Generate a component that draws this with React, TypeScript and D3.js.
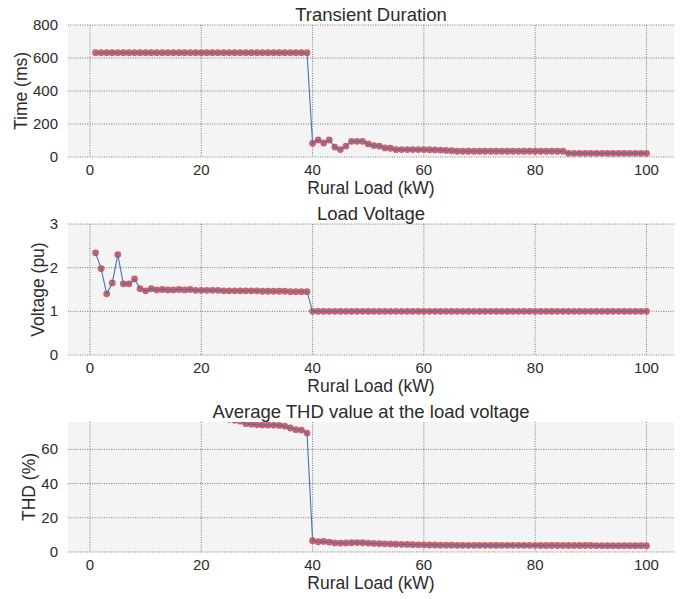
import * as d3 from 'd3';

const loads = d3.range(1, 101);

const transientMs = [
  632, 632, 632, 632, 632, 632, 632, 632, 632, 632,
  632, 632, 632, 632, 632, 632, 632, 632, 632, 632,
  632, 632, 632, 632, 632, 632, 632, 632, 632, 632,
  632, 632, 632, 632, 632, 632, 632, 632, 632,
  83, 103, 85, 103, 60, 45, 66, 95, 95, 95,
  79, 69, 66, 55, 53, 45, 45, 45, 45, 45, 45,
  44, 43, 42, 40, 38,
  35, 35, 35, 35, 35, 35, 35, 35, 35, 35,
  35, 35, 35, 35, 35, 35, 35, 35, 35, 35,
  22, 22, 22, 22, 22, 22, 22, 22, 22, 22, 22, 22, 22, 22, 22,
];

const voltagePu = [
  2.34, 1.98, 1.40, 1.65, 2.30, 1.63, 1.63, 1.74, 1.52, 1.47,
  1.52, 1.49, 1.50, 1.49, 1.49, 1.50, 1.49, 1.50, 1.48, 1.48,
  1.48, 1.48, 1.48, 1.47, 1.47, 1.47, 1.47, 1.47, 1.47, 1.47,
  1.46, 1.46, 1.46, 1.46, 1.46, 1.45, 1.45, 1.45, 1.45,
  1, 1, 1, 1, 1, 1, 1, 1, 1, 1, 1, 1, 1, 1, 1, 1, 1, 1, 1, 1, 1,
  1, 1, 1, 1, 1, 1, 1, 1, 1, 1, 1, 1, 1, 1, 1, 1, 1, 1, 1, 1,
  1, 1, 1, 1, 1, 1, 1, 1, 1, 1, 1, 1, 1, 1, 1, 1, 1, 1, 1, 1,
];

const thdPct = [
  96, 95, 94, 93, 92, 91, 90, 89, 88, 87,
  86, 85, 84.5, 84, 83, 82.5, 82, 81, 80.5, 80,
  79.5, 79, 78.5, 78, 77.5, 77, 76.5,
  75, 74.7, 74.4, 74.3, 74.2, 74.2, 74.0, 73.6, 72.5, 71.5, 71.3, 69.5,
  6.6, 6.0, 6.2, 5.8, 5.3, 5.2, 5.3, 5.4, 5.5, 5.4,
  5.2, 5.0, 4.9, 4.8, 4.7, 4.6, 4.5, 4.4, 4.3, 4.2, 4.2,
  4.1, 4.1, 4.0, 4.0, 4.0, 3.9, 3.9, 3.9, 3.9, 3.9,
  3.9, 3.9, 3.9, 3.9, 3.9, 3.9, 3.9, 3.9, 3.9, 3.9,
  3.8, 3.8, 3.8, 3.8, 3.8, 3.8, 3.8, 3.8, 3.8, 3.8,
  3.7, 3.7, 3.7, 3.7, 3.7, 3.7, 3.7, 3.7, 3.7, 3.7,
];

const xTicks = [0, 20, 40, 60, 80, 100];

const panels = [
  { id: 'p1', title: 'Transient Duration', ylabel: 'Time (ms)', values: transientMs, yDomain: [0, 800], yTicks: [0, 200, 400, 600, 800], top: 25, bottom: 157 },
  { id: 'p2', title: 'Load Voltage', ylabel: 'Voltage (pu)', values: voltagePu, yDomain: [0, 3], yTicks: [0, 1, 2, 3], top: 224, bottom: 355 },
  { id: 'p3', title: 'Average THD value at the load voltage', ylabel: 'THD (%)', values: thdPct, yDomain: [0, 76], yTicks: [0, 20, 40, 60], top: 422, bottom: 552 },
];

const W = 680;
const H = 599;
const left = 68;
const right = 674;
const font = '"Liberation Sans", Arial, sans-serif';
const textColor = '#2b2b2b';
const gridColor = '#5a5a5a';

function Panel({ p }) {
  const x = d3.scaleLinear().domain([-3.95, 104.95]).range([left, right]);
  const y = d3.scaleLinear().domain(p.yDomain).range([p.bottom, p.top]);
  const line = d3.line<number>().x((_, i) => x(loads[i])).y(d => y(d));
  const tickW = d3.max(p.yTicks, t => String(t).length * 8.3) ?? 0;
  const labelX = left - 10 - tickW - 6;

  return (
    <g>
      <defs>
        <clipPath id={`clip-${p.id}`}>
          <rect x={left} y={p.top} width={right - left} height={p.bottom - p.top} />
        </clipPath>
      </defs>
      <rect x={left} y={p.top} width={right - left} height={p.bottom - p.top} fill="#f4f4f4" />
      {xTicks.map(t => (
        <line key={`gx${t}`} x1={x(t)} x2={x(t)} y1={p.top} y2={p.bottom}
          stroke={gridColor} strokeWidth={0.8} strokeDasharray="1,1.4" />
      ))}
      {p.yTicks.map(t => (
        <line key={`gy${t}`} x1={left} x2={right} y1={y(t)} y2={y(t)}
          stroke={gridColor} strokeWidth={0.8} strokeDasharray="1,1.4" />
      ))}
      <g clipPath={`url(#clip-${p.id})`}>
        {p.values.map((v, i) => (
          <circle key={i} cx={x(loads[i])} cy={y(v)} r={3.4} fill="#c9505a" fillOpacity={0.9} />
        ))}
        <path d={line(p.values) ?? ''} fill="none" stroke="#4c72b0" strokeWidth={1.1} />
      </g>
      {xTicks.map(t => (
        <text key={`tx${t}`} x={x(t)} y={p.bottom + 18} textAnchor="middle"
          fontSize={15} fill={textColor} fontFamily={font}>{t}</text>
      ))}
      {p.yTicks.map(t => (
        <text key={`ty${t}`} x={left - 10} y={y(t) + 5} textAnchor="end"
          fontSize={15} fill={textColor} fontFamily={font}>{t}</text>
      ))}
      <text x={(left + right) / 2} y={p.top - 4} textAnchor="middle"
        fontSize={18.5} fill={textColor} fontFamily={font}>{p.title}</text>
      <text x={(left + right) / 2} y={p.bottom + 37} textAnchor="middle"
        fontSize={17.5} fill={textColor} fontFamily={font}>Rural Load (kW)</text>
      <text transform={`translate(${labelX},${(p.top + p.bottom) / 2}) rotate(-90)`}
        textAnchor="middle" fontSize={17.5} fill={textColor} fontFamily={font}>{p.ylabel}</text>
    </g>
  );
}

export default function App() {
  return (
    <svg width={W} height={H} viewBox={`0 0 ${W} ${H}`}
      style={{ position: 'absolute', left: 0, top: 0, background: '#fff' }}>
      {panels.map(p => <Panel key={p.id} p={p} />)}
    </svg>
  );
}
